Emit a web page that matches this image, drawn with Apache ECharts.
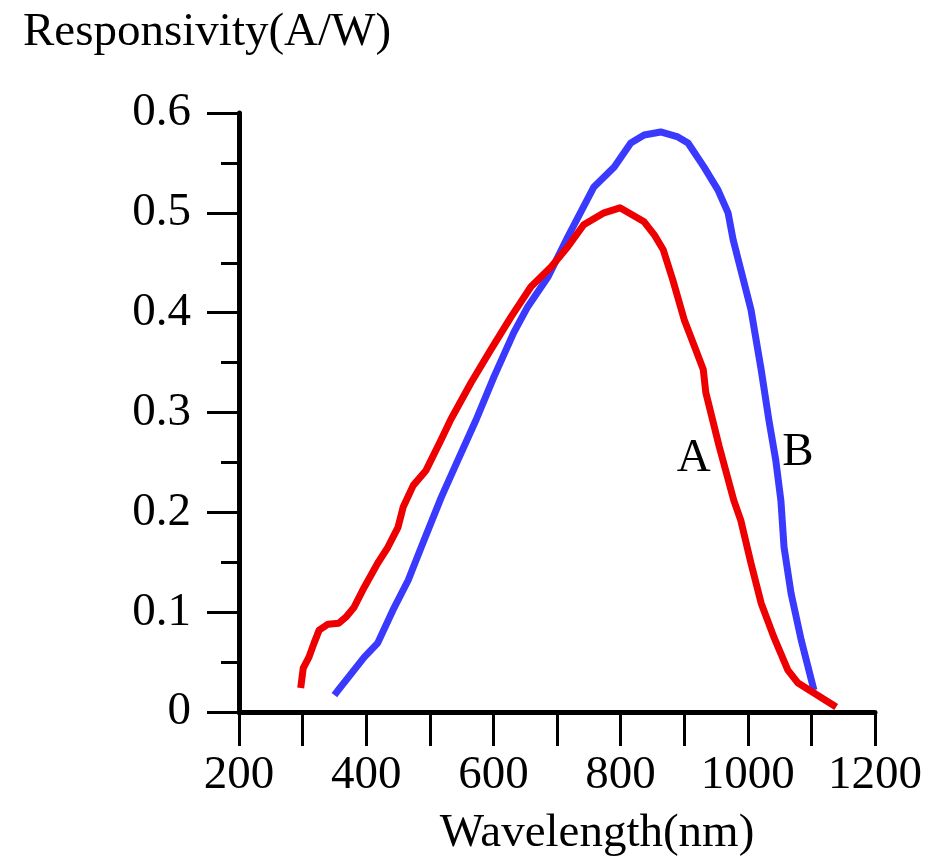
<!DOCTYPE html>
<html>
<head>
<meta charset="utf-8">
<script src="https://cdn.jsdelivr.net/npm/echarts@6/dist/echarts.min.js"></script>
<style>html,body{margin:0;padding:0;background:#fff}#c{width:928px;height:868px}</style>
</head>
<body>
<div id="c"></div>
<script>
const titleText = 'Responsivity(A/W)';
const xAxisName = 'Wavelength(nm)';
const xTicks = [200, 400, 600, 800, 1000, 1200];
const yTicks = [0, 0.1, 0.2, 0.3, 0.4, 0.5, 0.6];

const aWavelength = [297, 301, 310, 318, 326, 340, 357, 368, 381, 397, 418, 434, 450, 458, 474, 494, 518, 533, 565, 596, 628, 659, 691, 717, 742, 774, 799, 837, 853, 867, 882, 900, 915, 930, 934, 955, 978, 989, 1005, 1021, 1041, 1063, 1079, 1104, 1139];
const aResp = [0.024, 0.044, 0.055, 0.069, 0.082, 0.088, 0.089, 0.095, 0.105, 0.125, 0.149, 0.165, 0.185, 0.205, 0.227, 0.242, 0.273, 0.293, 0.33, 0.363, 0.396, 0.426, 0.446, 0.466, 0.488, 0.5, 0.505, 0.491, 0.478, 0.463, 0.433, 0.393, 0.368, 0.343, 0.32, 0.266, 0.212, 0.192, 0.149, 0.109, 0.075, 0.042, 0.029, 0.019, 0.005];

const bWavelength = [350, 356, 397, 418, 442, 466, 489, 518, 544, 573, 601, 632, 654, 686, 717, 758, 790, 816, 837, 863, 890, 906, 931, 953, 969, 977, 1005, 1021, 1033, 1044, 1052, 1057, 1068, 1084, 1104];
const bResp = [0.017, 0.022, 0.055, 0.069, 0.102, 0.132, 0.169, 0.215, 0.252, 0.293, 0.336, 0.38, 0.406, 0.436, 0.476, 0.526, 0.546, 0.57, 0.578, 0.581, 0.576, 0.57, 0.546, 0.523, 0.5, 0.473, 0.403, 0.343, 0.293, 0.252, 0.212, 0.165, 0.119, 0.072, 0.022];

const curveLabels = [
  {name: 'A', x: 915, y: 0.254},
  {name: 'B', x: 1079, y: 0.26}
];

const FONT = '"Liberation Serif", "DejaVu Serif", serif';
const FS = 47;
const chart = echarts.init(document.getElementById('c'));
const zip = (xs, ys) => xs.map((x, i) => [x, ys[i]]);

chart.setOption({
  animation: false,
  backgroundColor: '#fff',
  title: {
    text: titleText, left: 18, top: 4,
    textStyle: {fontFamily: FONT, fontSize: FS, fontWeight: 'normal', color: '#000'}
  },
  grid: {left: 239, top: 113, width: 636, height: 599, containLabel: false},
  xAxis: {
    type: 'value', min: 200, max: 1200, interval: 200,
    axisLine: {show: true, onZero: false, lineStyle: {color: '#000', width: 5}},
    axisTick: {show: true, length: 34, lineStyle: {color: '#000', width: 3}},
    minorTick: {show: true, splitNumber: 2, length: 34, lineStyle: {color: '#000', width: 3}},
    splitLine: {show: false},
    axisLabel: {margin: 40, fontFamily: FONT, fontSize: FS, color: '#000',
      formatter: v => String(v)},
  },
  yAxis: {
    type: 'value', min: 0, max: 0.6, interval: 0.1,
    axisLine: {show: true, onZero: false, lineStyle: {color: '#000', width: 5}},
    axisTick: {show: true, length: 32, lineStyle: {color: '#000', width: 3}},
    minorTick: {show: true, splitNumber: 2, length: 18, lineStyle: {color: '#000', width: 3}},
    splitLine: {show: false},
    axisLabel: {margin: 48, fontFamily: FONT, fontSize: FS, color: '#000',
      formatter: v => { const r = Math.round(v * 10) / 10; return r === 0 ? '0' : r.toFixed(1); }},
  },
  series: [
    {type: 'line', name: 'A', data: zip(aWavelength, aResp), showSymbol: false, smooth: false,
     lineStyle: {color: '#ee0000', width: 7, join: 'round', cap: 'butt'}, z: 3},
    {type: 'line', name: 'B', data: zip(bWavelength, bResp), showSymbol: false, smooth: false,
     lineStyle: {color: '#3a3aff', width: 7, join: 'round', cap: 'butt'}, z: 2}
  ]
});

const g = [{
  type: 'text', x: 597, y: 834,
  style: {text: xAxisName, font: FS + 'px ' + FONT, fill: '#000', textAlign: 'center', textVerticalAlign: 'middle'}
}];
curveLabels.forEach(l => {
  const p = chart.convertToPixel({gridIndex: 0}, [l.x, l.y]);
  g.push({type: 'text', x: p[0], y: p[1],
    style: {text: l.name, font: FS + 'px ' + FONT, fill: '#000', textAlign: 'center', textVerticalAlign: 'middle'}});
});
chart.setOption({graphic: g});
</script>
</body>
</html>
